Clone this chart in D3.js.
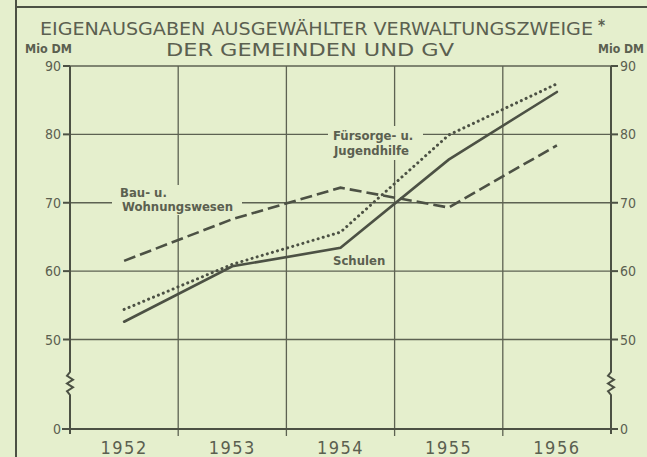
<!DOCTYPE html>
<html>
<head>
<meta charset="utf-8">
<script src="https://cdn.jsdelivr.net/npm/d3@7"></script>
<style>
  html, body { margin: 0; padding: 0; background: #e5efcd; }
  svg { display: block; }
  .grid { stroke: #5d6252; stroke-width: 1.3; fill: none; }
  .axis { stroke: #4c5144; stroke-width: 2; fill: none; }
  .lbl { fill: #5b6050; font-family: "DejaVu Sans Condensed", "DejaVu Sans", sans-serif; }
</style>
</head>
<body>
<svg id="chart"></svg>
<script>
// ---- data (Mio DM) ----
const years = [1952, 1953, 1954, 1955, 1956];
const schulen = [52.6, 60.7, 63.4, 76.3, 86.2];
const fuersorge = [54.4, 61.0, 65.7, 79.9, 87.4];
const bauWohnung = [61.5, 67.6, 72.2, 69.3, 78.4];
const yTicks = [0, 50, 60, 70, 80, 90];
const gridTicks = [50, 60, 70, 80, 90];

const W = 647, H = 457;
const bg = "#e5efcd";
const ink = "#4c5144";

const svg = d3.select("#chart").attr("width", W).attr("height", H);
svg.append("rect").attr("width", W).attr("height", H).attr("fill", bg);

// x: years centred in bands, boundaries at half years
const x = d3.scaleLinear().domain([1951.5, 1956.5]).range([70, 611]);
// y: broken axis, 0 then 50..90
const y = d3.scaleLinear().domain([0, 50, 90]).range([429, 339.5, 66]);
const bounds = d3.range(1952.5, 1956.5, 1);

// frame
svg.append("line").attr("x1", 16).attr("x2", 16).attr("y1", 0).attr("y2", H)
  .attr("stroke", ink).attr("stroke-width", 2);
svg.append("line").attr("x1", 16).attr("x2", W).attr("y1", 7).attr("y2", 7)
  .attr("stroke", ink).attr("stroke-width", 2);

// title
svg.append("text").attr("class", "lbl").attr("x", 40).attr("y", 35)
  .attr("font-size", 17.5).attr("textLength", 553).attr("lengthAdjust", "spacingAndGlyphs")
  .text("EIGENAUSGABEN AUSGEWÄHLTER VERWALTUNGSZWEIGE");
svg.append("text").attr("class", "lbl").attr("x", 598).attr("y", 31)
  .attr("font-size", 15).attr("font-weight", "bold").text("*");
svg.append("text").attr("class", "lbl").attr("x", 166).attr("y", 56)
  .attr("font-size", 17.5).attr("textLength", 288).attr("lengthAdjust", "spacingAndGlyphs")
  .text("DER GEMEINDEN UND GV");

// unit labels
svg.append("text").attr("class", "lbl").attr("x", 25).attr("y", 53)
  .attr("font-size", 11.5).attr("font-weight", "bold").attr("textLength", 47)
  .attr("lengthAdjust", "spacingAndGlyphs").text("Mio DM");
svg.append("text").attr("class", "lbl").attr("x", 598).attr("y", 53)
  .attr("font-size", 11.5).attr("font-weight", "bold").attr("textLength", 46)
  .attr("lengthAdjust", "spacingAndGlyphs").text("Mio DM");

// gridlines
svg.selectAll(".hgrid").data(gridTicks).enter().append("line")
  .attr("class", "grid")
  .attr("x1", x(1951.5)).attr("x2", x(1956.5))
  .attr("y1", d => y(d)).attr("y2", d => y(d));
svg.selectAll(".vgrid").data(bounds).enter().append("line")
  .attr("class", "grid")
  .attr("x1", d => x(d)).attr("x2", d => x(d))
  .attr("y1", y(90)).attr("y2", y(0) + 7);

// label backgrounds that interrupt the grid
const labelBoxes = [
  { x: 112, y: 185, w: 130, h: 30 },
  { x: 328, y: 126, w: 95, h: 34 }
];
svg.selectAll(".lbox").data(labelBoxes).enter().append("rect")
  .attr("x", d => d.x).attr("y", d => d.y).attr("width", d => d.w).attr("height", d => d.h)
  .attr("fill", bg);

// axes with zigzag break
function axisPath(ax) {
  const b0 = 372, b1 = 395, amp = 3;
  const pts = [[ax, y(90)], [ax, b0]];
  const n = 6;
  for (let i = 1; i < n; i++) {
    pts.push([ax + (i % 2 ? -amp : amp), b0 + (b1 - b0) * i / n]);
  }
  pts.push([ax, b1], [ax, y(0) + 5]);
  return d3.line()(pts);
}
svg.append("path").attr("class", "axis").attr("d", axisPath(x(1951.5)));
svg.append("path").attr("class", "axis").attr("d", axisPath(x(1956.5)));
svg.append("line").attr("class", "axis")
  .attr("x1", x(1951.5) - 8).attr("x2", x(1956.5) + 7)
  .attr("y1", y(0)).attr("y2", y(0));

// y ticks + labels
[["left", x(1951.5)], ["right", x(1956.5)]].forEach(([side, ax]) => {
  const s = side === "left" ? -1 : 1;
  svg.selectAll(".tk-" + side).data(yTicks).enter().append("line")
    .attr("class", "axis").attr("stroke-width", 1.3)
    .attr("x1", ax).attr("x2", ax + s * 7)
    .attr("y1", d => y(d)).attr("y2", d => y(d));
  svg.selectAll(".tl-" + side).data(yTicks).enter().append("text")
    .attr("class", "lbl").attr("font-size", 14)
    .attr("x", ax + s * 9)
    .attr("y", d => y(d) + 5)
    .attr("text-anchor", side === "left" ? "end" : "start")
    .text(d => d);
});

// x labels
svg.selectAll(".xl").data(years).enter().append("text")
  .attr("class", "lbl").attr("font-size", 18)
  .attr("x", d => x(d)).attr("y", 454)
  .attr("text-anchor", "middle").attr("letter-spacing", 1.5)
  .text(d => d);

// series labels
const labels = [
  { t: "Bau- u.", x: 120, y: 197 },
  { t: "Wohnungswesen", x: 122, y: 211 },
  { t: "Fürsorge- u.", x: 333, y: 140 },
  { t: "Jugendhilfe", x: 334, y: 155 },
  { t: "Schulen", x: 333, y: 265 }
];
svg.selectAll(".sl").data(labels).enter().append("text")
  .attr("class", "lbl").attr("font-size", 13).attr("font-weight", "bold")
  .attr("x", d => d.x).attr("y", d => d.y).text(d => d.t);

// series lines
const line = d3.line().x(d => x(d[0])).y(d => y(d[1]));
const series = [
  { v: bauWohnung, dash: "12 5", cap: "butt", w: 2.6 },
  { v: fuersorge, dash: "0.1 5.2", cap: "round", w: 3 },
  { v: schulen, dash: null, cap: "round", w: 2.6 }
];
series.forEach(s => {
  svg.append("path")
    .datum(years.map((yr, i) => [yr, s.v[i]]))
    .attr("d", line)
    .attr("fill", "none")
    .attr("stroke", ink)
    .attr("stroke-width", s.w)
    .attr("stroke-linecap", s.cap)
    .attr("stroke-dasharray", s.dash);
});
</script>
</body>
</html>
